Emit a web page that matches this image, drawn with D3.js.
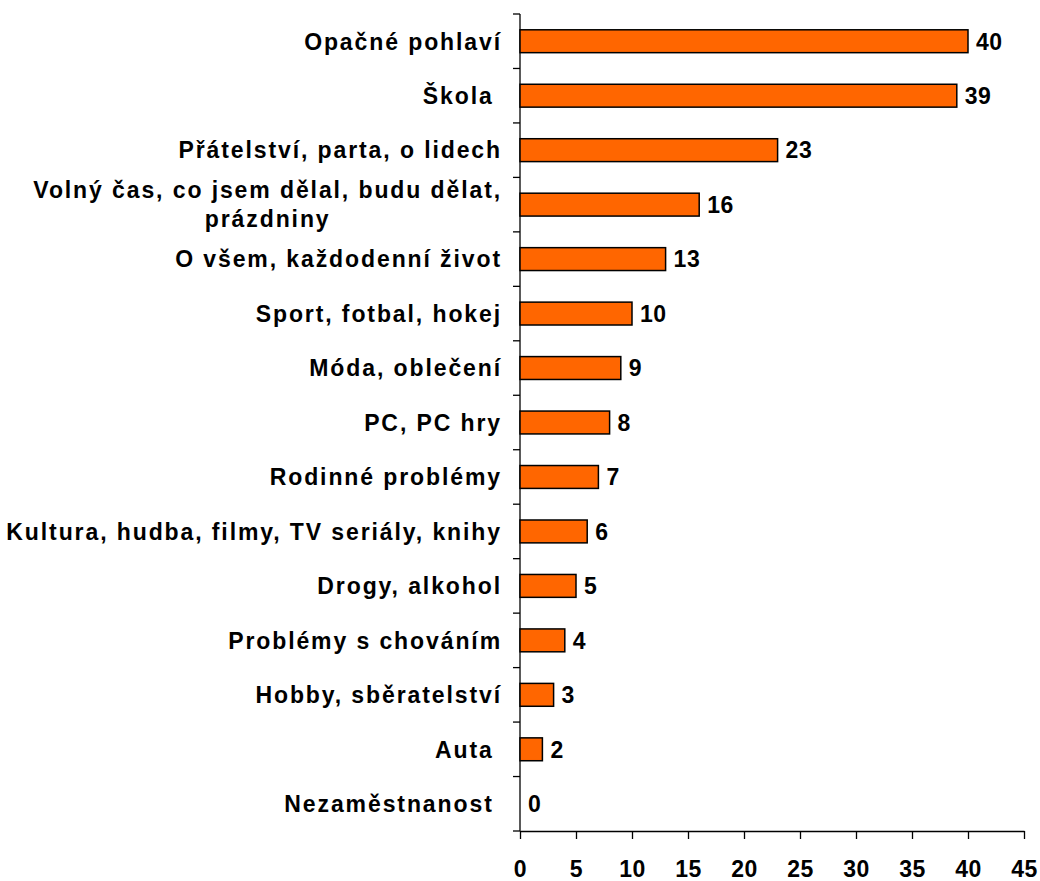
<!DOCTYPE html>
<html>
<head>
<meta charset="utf-8">
<script src="https://cdn.jsdelivr.net/npm/d3@7"></script>
<style>
  body { margin: 0; background: #fff; }
  text { font-family: "Liberation Sans", Arial, sans-serif; font-weight: bold; fill: #000; }
</style>
</head>
<body>
<div id="chart"></div>
<script>
// data
var categories = [
    'Opačné pohlaví',
    'Škola ',
    'Přátelství, parta, o lidech',
    'Volný čas, co jsem dělal, budu dělat,|prázdniny',
    'O všem, každodenní život',
    'Sport, fotbal, hokej',
    'Móda, oblečení',
    'PC, PC hry',
    'Rodinné problémy',
    'Kultura, hudba, filmy, TV seriály, knihy',
    'Drogy, alkohol',
    'Problémy s chováním',
    'Hobby, sběratelství',
    'Auta ',
    'Nezaměstnanost '
]
var values = [40, 39, 23, 16, 13, 10, 9, 8, 7, 6, 5, 4, 3, 2, 0]
var xTicks = [0, 5, 10, 15, 20, 25, 30, 35, 40, 45]

var size = ({width: 1040, height: 881})
var margin = ({top: 14, right: 16, bottom: 50, left: 520})
var fontSize = 23
var spacing = 1.9

var x = d3.scaleLinear()
    .domain([0, 45])
    .range([margin.left, size.width - margin.right])

var y = d3.scaleBand()
    .domain(d3.range(categories.length))
    .range([margin.top, size.height - margin.bottom])
    .paddingInner(0.58)
    .paddingOuter(0.29)

var yOuter = d3.scaleBand()
    .domain(d3.range(categories.length))
    .range([margin.top, size.height - margin.bottom])

const svg = d3.select('#chart')
    .append('svg')
    .attr('width', size.width)
    .attr('height', size.height)

// y axis line + ticks between categories
svg.append('line')
    .attr('x1', x(0)).attr('x2', x(0))
    .attr('y1', margin.top).attr('y2', size.height - margin.bottom)
    .attr('stroke', '#000').attr('stroke-width', 1.3)

svg.append('g')
    .selectAll('line')
    .data(d3.range(categories.length + 1))
    .join('line')
        .attr('x1', x(0) - 7).attr('x2', x(0))
        .attr('y1', i => margin.top + i * yOuter.step())
        .attr('y2', i => margin.top + i * yOuter.step())
        .attr('stroke', '#000').attr('stroke-width', 1.3)

// x axis
svg.append('g')
    .attr('transform', `translate(0, ${size.height - margin.bottom})`)
    .call(d3.axisBottom(x).tickValues(xTicks).tickSize(8).tickSizeOuter(0).tickPadding(22))
    .call(g => g.select('.domain').attr('stroke-width', 1.3))
    .call(g => g.selectAll('.tick line').attr('stroke-width', 1.3))
    .call(g => g.selectAll('.tick text')
        .attr('font-size', fontSize)
        .attr('font-family', '"Liberation Sans", Arial, sans-serif')
        .attr('font-weight', 'bold')
        .attr('letter-spacing', 0.5))

// bars
svg.append('g')
    .selectAll('rect')
    .data(values.filter(v => v > 0))
    .join('rect')
        .attr('x', x(0))
        .attr('y', (d, i) => y(i))
        .attr('width', d => x(d) - x(0))
        .attr('height', y.bandwidth())
        .attr('fill', '#ff6600')
        .attr('stroke', '#000')
        .attr('stroke-width', 1.5)

// value labels
svg.append('g')
    .selectAll('text')
    .data(values)
    .join('text')
        .attr('x', d => x(d) + 8)
        .attr('y', (d, i) => yOuter(i) + yOuter.bandwidth() / 2)
        .attr('dy', '0.36em')
        .attr('font-size', fontSize)
        .attr('letter-spacing', 0.5)
        .text(d => d)

// category labels
var labelRight = x(0) - 18
var lab = svg.append('g')
categories.forEach(function (c, i) {
    var lines = c.split('|')
    var cy = yOuter(i) + yOuter.bandwidth() / 2
    var lh = 29
    var t = lab.append('text')
        .attr('font-size', fontSize)
        .attr('letter-spacing', spacing)
        .style('white-space', 'pre')
    if (lines.length === 1) {
        t.attr('x', labelRight).attr('y', cy).attr('dy', '0.36em')
            .attr('text-anchor', 'end').text(c)
    } else {
        // centered block, right edge at labelRight
        var tmp = lab.append('text').attr('font-size', fontSize)
            .attr('letter-spacing', spacing).text(lines[0])
        var w = tmp.node().getComputedTextLength()
        tmp.remove()
        t.attr('text-anchor', 'middle')
        lines.forEach(function (l, k) {
            t.append('tspan')
                .attr('x', labelRight - w / 2)
                .attr('y', cy + (k - (lines.length - 1) / 2) * lh)
                .attr('dy', '0.36em')
                .text(l)
        })
    }
})
</script>
</body>
</html>
